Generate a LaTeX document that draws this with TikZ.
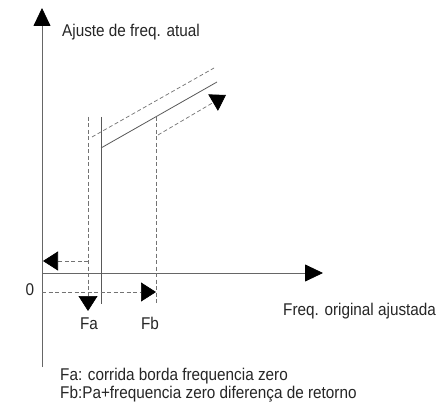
\documentclass[tikz,border=0pt]{standalone}
\usepackage{fontspec}
\setmainfont{Liberation Sans}[FakeStretch=0.9]
\usetikzlibrary{arrows.meta}
\begin{document}
\begin{tikzpicture}[x=1pt,y=-1pt,
  axis/.style={draw=black!60, line width=0.8pt},
  solidline/.style={draw=black!65, line width=0.8pt},
  dashline/.style={draw=black!55, line width=0.7pt, dash pattern=on 4pt off 2.5pt},
  bigtip/.style={-{Triangle[length=15pt,width=19pt,color=black]}},
  axtip/.style={-{Triangle[length=18pt,width=17pt,color=black]}},
  lbl/.style={inner sep=0pt, font=\fontsize{17}{20}\selectfont, text=black!85},
]
\useasboundingbox[fill=white] (0,0) rectangle (436,406);
% axes
\coordinate (O) at (42,273);
\coordinate (ybot) at (42,367);
\coordinate (ytop) at (42,8);
\coordinate (xend) at (323,273);
\draw[axis,axtip] (ybot) -- (ytop);
\draw[axis,axtip] (O) -- (xend);
% solid characteristic
\coordinate (sv1) at (101,117);
\coordinate (sv2) at (101,304);
\coordinate (sl1) at (101,148);
\coordinate (sl2) at (217,82);
\draw[solidline] (sv1) -- (sv2);
\draw[solidline] (sl1) -- (sl2);
% dashed upper slant
\coordinate (ud1) at (92,137);
\coordinate (ud2) at (214,68);
\draw[dashline] (ud1) -- (ud2);
% Fa dashed vertical with down arrow
\coordinate (fa1) at (88,117);
\coordinate (fa2) at (88,311);
\draw[dashline,bigtip] (fa1) -- (fa2);
% left arrow
\coordinate (la1) at (88,261);
\coordinate (la2) at (43,261);
\draw[dashline,bigtip] (la1) -- (la2);
% bottom right arrow
\coordinate (ra1) at (42,292);
\coordinate (ra2) at (156,292);
\draw[dashline,bigtip] (ra1) -- (ra2);
% Fb dashed vertical
\coordinate (fb1) at (156,117);
\coordinate (fb2) at (156,303);
\draw[dashline] (fb1) -- (fb2);
% lower dashed slant arrow
\coordinate (ld1) at (158,135);
\coordinate (ld2) at (226,95);
\draw[dashline,bigtip] (ld1) -- (ld2);
% labels
\node[lbl,anchor=base west] (ylab) at (62,37) {Ajuste de freq. atual};
\node[lbl,anchor=base] (zero) at (30,295) {0};
\node[lbl,anchor=base] (fa) at (89,329) {Fa};
\node[lbl,anchor=base] (fb) at (150,329) {Fb};
\node[lbl,anchor=base west] (xlab) at (283,315) {Freq. original ajustada};
\node[lbl,anchor=base west] (n1) at (60,380) {Fa: corrida borda frequencia zero};
\node[lbl,anchor=base west] (n2) at (60,398) {Fb:Pa+frequencia zero diferença de retorno};
\end{tikzpicture}
\end{document}
